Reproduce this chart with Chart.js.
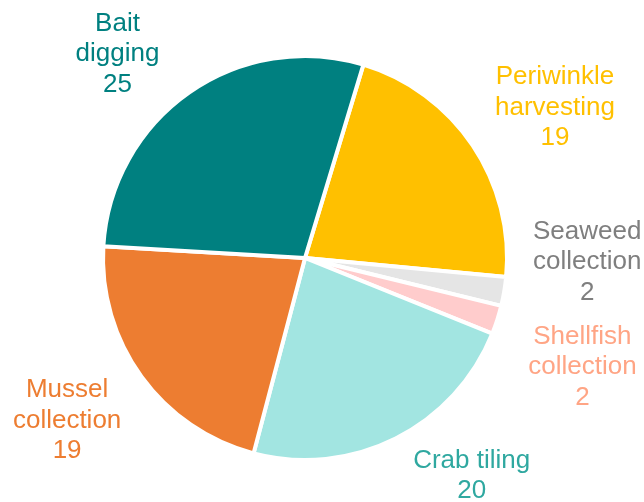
<!DOCTYPE html>
<html>
<head>
<meta charset="utf-8">
<script src="https://cdn.jsdelivr.net/npm/chart.js@4.4.1/dist/chart.umd.min.js"></script>
<style>
  html, body { margin: 0; padding: 0; background: #ffffff; }
  #wrap { position: relative; width: 644px; height: 502px; }
</style>
</head>
<body>
<div id="wrap"><canvas id="pie"></canvas></div>
<script>
// Activities, in clockwise order starting just right of twelve o'clock
const categories = [
  ['Periwinkle', 'harvesting'],
  ['Seaweed', 'collection'],
  ['Shellfish', 'collection'],
  ['Crab tiling'],
  ['Mussel', 'collection'],
  ['Bait', 'digging']
];
const counts = [19, 2, 2, 20, 19, 25];

const sliceColors = ['#FFC000', '#E5E5E5', '#FFCCCC', '#A2E5E1', '#ED7D31', '#008080'];
const labelColors = ['#FFC000', '#7F7F7F', '#FFA585', '#2FA8A0', '#ED7D31', '#008080'];

// Label block offsets from the outer midpoint of each slice (px)
const labelNudges = [[84, -39], [85, -29], [87, 48], [77, 39], [-76, 45], [-73, -40]];

const BORDER = 4;

const outsideLabels = {
  id: 'outsideLabels',
  afterDatasetsDraw(chart) {
    const ctx = chart.ctx;
    const meta = chart.getDatasetMeta(0);
    const ds = chart.data.datasets[0];
    ctx.save();
    ctx.font = '26px "Liberation Sans", Arial, sans-serif';
    ctx.textAlign = 'center';
    ctx.textBaseline = 'middle';
    const lineH = 30.5;
    meta.data.forEach((arc, i) => {
      const p = arc.getProps(['x', 'y', 'startAngle', 'endAngle', 'outerRadius'], true);
      const mid = (p.startAngle + p.endAngle) / 2;
      const r = p.outerRadius - BORDER / 2;
      const ox = p.x + Math.cos(mid) * r + labelNudges[i][0];
      const oy = p.y + Math.sin(mid) * r + labelNudges[i][1];
      const lines = [...chart.data.labels[i], String(ds.data[i])];
      const top = oy - (lines.length - 1) * lineH / 2;
      ctx.fillStyle = labelColors[i];
      lines.forEach((t, k) => ctx.fillText(t, ox, top + k * lineH));
    });
    ctx.restore();
  }
};

new Chart(document.getElementById('pie'), {
  type: 'pie',
  data: {
    labels: categories,
    datasets: [{
      data: counts,
      backgroundColor: sliceColors,
      borderColor: '#ffffff',
      borderWidth: BORDER
    }]
  },
  options: {
    responsive: true,
    maintainAspectRatio: false,
    animation: false,
    events: [],
    rotation: 16.8,
    radius: 202,
    layout: { padding: { left: 0, right: 34, top: 14, bottom: 0 } },
    plugins: {
      legend: { display: false },
      tooltip: { enabled: false }
    }
  },
  plugins: [outsideLabels]
});
</script>
</body>
</html>
